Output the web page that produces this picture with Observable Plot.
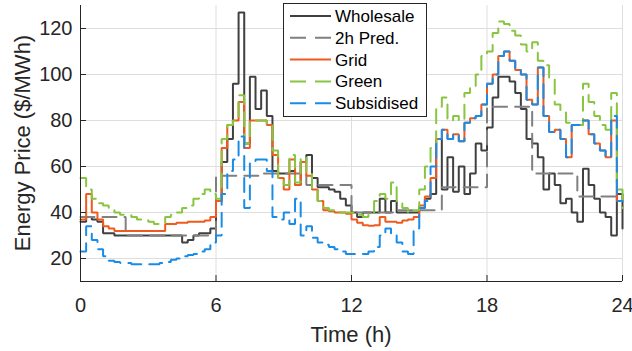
<!DOCTYPE html>
<html><head><meta charset="utf-8">
<script src="https://cdn.jsdelivr.net/npm/d3@7"></script>
<script src="https://cdn.jsdelivr.net/npm/@observablehq/plot@0.6"></script>
<style>body{margin:0;background:#fff;} svg{display:block}</style>
</head><body><div id="chart"></div>
<script>
// ---- data (15-minute steps, 0h..24h; last value is the level at 24h) ----
const stepHours = 0.25;
const xTicks = [0, 6, 12, 18, 24];
const yTicks = [20, 40, 60, 80, 100, 120];
const xTitle = "Time (h)";
const yTitle = "Energy Price ($/MWh)";

const wholesale = [
  36,38,37,36, 31,31,30,30, 30,30,30,30, 30,30,30,30, 30,30,27,28, 30,31,31,33,
  45,62,72,96, 127,70,99,85, 93,82,58,57, 57,58,52,62, 65,55,51,51, 50,49,46,43,
  40,38,40,40, 40,46,40,45, 40,40,40,40, 42,46,48,72, 50,64,49,60, 48,57,70,67,
  77,90,99,99, 97,92,85,72, 70,64,50,57, 52,44,46,40, 36,59,52,46, 40,38,30,48, 33];

const predStart = [0, 2, 4, 6, 8, 10, 12, 14, 16, 18, 20, 22, 24];
const predValue = [38, 30, 30, 56, 57, 52, 40, 41, 51, 86, 57, 47, 47];

const grid = [
  37,48,40,37, 34,33,32,32, 32,32,32,32, 32,32,32,35, 35,35.5,35.5,36, 36,36,36.5,38,
  45,68,78,80, 88,68,80,80, 80,78,65,55, 50,63,52,62, 56,50,45,41, 40.5,40,40,39.5,
  37,35.5,34.5,34.2, 34.5,38,36,36, 35.5,36.5,37,38, 43,47,55,72, 76,72,74,71, 79,81,82,87,
  96,100,108,110, 106,102,100,89, 87,103,82,75, 76,72,64,78, 78,80,74,70, 67,64,80,45, 45];

const green = [
  55,50,46,44, 43,42,40,39, 39,38,37,37, 36,35,35,38, 39,40,42,43, 46,48,50,48,
  46,72,78,80, 91,70,80,80, 80,78,67,55, 52,65,53,64, 57,50,45,42, 41,40.5,40,40,
  40,39,38,40, 45,48,46,53, 44,42,40,41, 50,60,68,86, 90,80,82,80, 92,95,100,108,
  110,118,123,122, 119,117,113,110, 114,106,104,98, 87,84,79,78, 78,96,88,82, 78,76,92,50, 42];

const subsidised = [
  23,34,28,24, 21,19,18.5,18, 18,17.5,17.5,17.5, 17.5,17.5,18,18.5, 19.5,20,21,21.5, 22,23,24,27,
  30,48,58,63, 73,42,62,63, 63,58,38,37, 40,35,46,30, 34,29,27,26, 25,24,23,22,
  22,22,22,23, 25,30,33,30, 27,23,22,33, 42,45,60,72, 76,72,74,71, 79,81,82,87,
  96,100,108,110, 106,102,100,89, 87,103,82,75, 76,72,64,78, 78,80,74,70, 67,64,82,45, 45];

const seriesNames = ["Wholesale", "2h Pred.", "Grid", "Green", "Subsidised"];
const seriesColors = ["#404040", "#808080", "#EF5A1E", "#88C540", "#1A8CE6"];
const seriesDash = [null, "14,8", null, "14,8", "14,8"];

// ---- build rows ----
const rows = (values) => values.map((v, i) => ({t: i * stepHours, v}));
const tables = [
  rows(wholesale),
  predStart.map((t, i) => ({t, v: predValue[i]})),
  rows(grid),
  rows(green),
  rows(subsidised)
];

const font = "'Liberation Sans', Arial, Helvetica, sans-serif";
const axisColor = "#262626";

const lineMarks = tables.map((data, i) => Plot.line(data, {
  x: "t", y: "v", curve: "step-after",
  stroke: seriesColors[i], strokeWidth: 2,
  strokeDasharray: seriesDash[i] || undefined,
  strokeLinejoin: "miter"
}));

const chart = Plot.plot({
  width: 632, height: 351,
  marginLeft: 80, marginRight: 10, marginTop: 5, marginBottom: 70,
  x: {domain: [0, 24]},
  y: {domain: [10, 130]},
  style: {fontFamily: font, background: "#fff", color: axisColor, overflow: "visible"},
  marks: [
    Plot.gridX(xTicks.slice(1), {stroke: "#dedede", strokeOpacity: 1}),
    Plot.gridY(yTicks, {stroke: "#dedede", strokeOpacity: 1}),
    ...lineMarks,
    Plot.ruleX([xTicks[0]], {stroke: axisColor}),
    Plot.ruleY([10], {stroke: axisColor}),
    Plot.tickX(xTicks, {x: d => d, stroke: axisColor, insetTop: 270}),
    Plot.tickY(yTicks, {y: d => d, stroke: axisColor, insetRight: 536}),
    Plot.axisX(xTicks, {tickSize: 0, tickPadding: 16, fontSize: 20, label: null, fill: axisColor}),
    Plot.axisY(yTicks, {tickSize: 0, tickPadding: 8, fontSize: 20, label: null, fill: axisColor})
  ]
});

const svg = d3.select(chart);

// ---- axis titles ----
const titles = svg.append("g").attr("font-family", font).attr("font-size", 22)
  .attr("fill", axisColor).attr("text-anchor", "middle");
titles.append("text").attr("x", 351).attr("y", 334).attr("dy", "0.35em").text(xTitle);
titles.append("text").attr("transform", "translate(22,143) rotate(-90)")
  .attr("dy", "0.35em").text(yTitle);

// ---- legend (inside the axes, top centre) ----
const lg = svg.append("g").attr("font-family", font).attr("font-size", 17).attr("text-anchor", "start");
lg.append("rect").attr("x", 283.5).attr("y", 3.5).attr("width", 143).attr("height", 113)
  .attr("fill", "#fff").attr("stroke", axisColor).attr("stroke-width", 1);
seriesNames.forEach((name, i) => {
  const cy = 16 + i * 21.8;
  lg.append("line").attr("x1", 290).attr("x2", 331).attr("y1", cy).attr("y2", cy)
    .attr("stroke", seriesColors[i]).attr("stroke-width", 2)
    .attr("stroke-dasharray", seriesDash[i] ? "16,9" : null);
  lg.append("text").attr("x", 335).attr("y", cy).attr("dy", "0.35em")
    .attr("fill", "#000").text(name);
});

document.getElementById("chart").appendChild(chart);
</script>
</body></html>
